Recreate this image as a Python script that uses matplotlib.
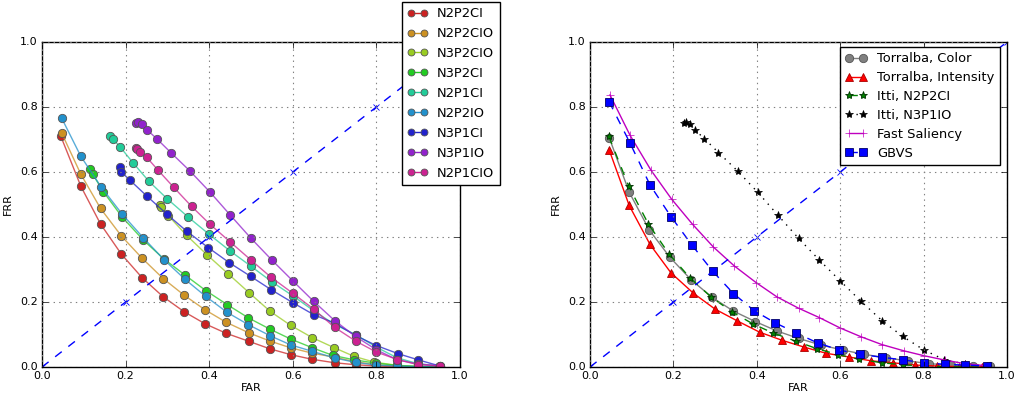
import matplotlib
matplotlib.use('Agg')
import matplotlib.pyplot as plt

plt.style.use('classic')
plt.rcParams['figure.facecolor'] = 'white'
plt.rcParams['savefig.facecolor'] = 'white'
plt.rcParams['font.size'] = 8

# ---- left panel data ----
names_left = ['N2P2CI', 'N2P2CIO', 'N3P2CIO', 'N3P2CI', 'N2P1CI',
              'N2P2IO', 'N3P1CI', 'N3P1IO', 'N2P1CIO']
colors_left = ['#cc2222', '#cc9122', '#99cc22', '#22cc22', '#22cc99',
               '#2291cc', '#2222cc', '#9122cc', '#cc2291']

far_n2p2ci = [0.045, 0.093, 0.14, 0.19, 0.24, 0.29, 0.34, 0.39, 0.44, 0.495,
              0.545, 0.595, 0.645, 0.70, 0.75, 0.80, 0.85, 0.90, 0.95]
frr_n2p2ci = [0.71, 0.556, 0.44, 0.347, 0.274, 0.216, 0.17, 0.133, 0.104, 0.079,
              0.056, 0.038, 0.024, 0.013, 0.007, 0.003, 0.001, 0.0, 0.0]

far_n2p2cio = [0.047, 0.093, 0.14, 0.19, 0.24, 0.29, 0.34, 0.39, 0.44, 0.495,
               0.545, 0.595, 0.645, 0.70, 0.75, 0.80, 0.85, 0.90, 0.95]
frr_n2p2cio = [0.72, 0.593, 0.488, 0.403, 0.334, 0.272, 0.221, 0.176, 0.138, 0.105,
               0.080, 0.059, 0.043, 0.030, 0.016, 0.007, 0.003, 0.001, 0.0]

far_n3p2cio = [0.282, 0.285, 0.302, 0.346, 0.395, 0.446, 0.496, 0.546, 0.595,
               0.647, 0.698, 0.746, 0.795, 0.85, 0.90, 0.95]
frr_n3p2cio = [0.5, 0.493, 0.466, 0.405, 0.345, 0.286, 0.228, 0.171, 0.128,
               0.090, 0.060, 0.033, 0.015, 0.005, 0.001, 0.0]

far_n3p2ci = [0.115, 0.121, 0.147, 0.192, 0.242, 0.292, 0.342, 0.392, 0.443, 0.494,
              0.546, 0.595, 0.647, 0.695, 0.747, 0.798, 0.85, 0.90, 0.95]
frr_n3p2ci = [0.609, 0.594, 0.539, 0.461, 0.391, 0.332, 0.283, 0.235, 0.192, 0.151,
              0.116, 0.086, 0.059, 0.036, 0.022, 0.012, 0.005, 0.002, 0.0]

far_n2p1ci = [0.162, 0.17, 0.187, 0.218, 0.256, 0.30, 0.35, 0.40, 0.45, 0.50,
              0.55, 0.60, 0.65, 0.70, 0.75, 0.80, 0.85, 0.90, 0.952]
frr_n2p1ci = [0.711, 0.701, 0.677, 0.628, 0.571, 0.517, 0.461, 0.408, 0.357, 0.31,
              0.262, 0.219, 0.173, 0.131, 0.100, 0.061, 0.028, 0.010, 0.003]

far_n2p2io = [0.047, 0.093, 0.142, 0.192, 0.242, 0.292, 0.342, 0.392, 0.443, 0.494,
              0.546, 0.595, 0.647, 0.70, 0.75, 0.80, 0.85, 0.90, 0.95]
frr_n2p2io = [0.766, 0.648, 0.553, 0.47, 0.398, 0.33, 0.27, 0.217, 0.168, 0.13,
              0.096, 0.068, 0.048, 0.028, 0.014, 0.006, 0.003, 0.001, 0.0]

far_n3p1ci = [0.186, 0.19, 0.211, 0.25, 0.298, 0.346, 0.398, 0.448, 0.499, 0.548,
              0.60, 0.65, 0.70, 0.75, 0.80, 0.852, 0.90, 0.952]
frr_n3p1ci = [0.614, 0.60, 0.574, 0.527, 0.471, 0.418, 0.367, 0.321, 0.279, 0.238,
              0.198, 0.161, 0.135, 0.097, 0.066, 0.041, 0.022, 0.003]

far_n3p1io = [0.226, 0.23, 0.24, 0.252, 0.274, 0.308, 0.354, 0.402, 0.45, 0.50,
              0.55, 0.60, 0.65, 0.70, 0.75, 0.80, 0.85, 0.90, 0.952]
frr_n3p1io = [0.752, 0.755, 0.747, 0.729, 0.703, 0.660, 0.603, 0.538, 0.468, 0.396,
              0.329, 0.265, 0.202, 0.143, 0.094, 0.053, 0.022, 0.009, 0.004]

far_n2p1cio = [0.224, 0.227, 0.234, 0.25, 0.278, 0.315, 0.358, 0.402, 0.45, 0.50,
               0.548, 0.60, 0.65, 0.70, 0.75, 0.80, 0.85, 0.90, 0.952]
frr_n2p1cio = [0.673, 0.67, 0.663, 0.646, 0.605, 0.553, 0.494, 0.439, 0.385, 0.329,
               0.276, 0.227, 0.178, 0.122, 0.080, 0.046, 0.023, 0.007, 0.003]

fars_left = [far_n2p2ci, far_n2p2cio, far_n3p2cio, far_n3p2ci, far_n2p1ci,
             far_n2p2io, far_n3p1ci, far_n3p1io, far_n2p1cio]
frrs_left = [frr_n2p2ci, frr_n2p2cio, frr_n3p2cio, frr_n3p2ci, frr_n2p1ci,
             frr_n2p2io, frr_n3p1ci, frr_n3p1io, frr_n2p1cio]

# ---- right panel data ----
far_torr_color = [0.046, 0.094, 0.142, 0.192, 0.242, 0.293, 0.344, 0.396, 0.448, 0.50,
                  0.553, 0.606, 0.658, 0.71, 0.762, 0.814, 0.866, 0.918, 0.96]
frr_torr_color = [0.706, 0.538, 0.422, 0.337, 0.269, 0.214, 0.172, 0.140, 0.111, 0.088,
                  0.068, 0.052, 0.039, 0.028, 0.019, 0.010, 0.006, 0.003, 0.003]

far_torr_int = [0.046, 0.094, 0.144, 0.194, 0.248, 0.30, 0.353, 0.407, 0.461, 0.514,
                0.567, 0.62, 0.674, 0.726, 0.78, 0.832, 0.885, 0.94]
frr_torr_int = [0.668, 0.497, 0.377, 0.290, 0.227, 0.178, 0.142, 0.107, 0.082, 0.061,
                0.042, 0.031, 0.019, 0.013, 0.006, 0.003, 0.001, 0.0]

far_fast = [0.048, 0.096, 0.146, 0.196, 0.246, 0.296, 0.346, 0.398, 0.448, 0.50,
            0.55, 0.60, 0.65, 0.70, 0.752, 0.80, 0.852, 0.90, 0.95]
frr_fast = [0.837, 0.713, 0.606, 0.516, 0.439, 0.369, 0.311, 0.260, 0.216, 0.181,
            0.152, 0.12, 0.093, 0.069, 0.050, 0.035, 0.021, 0.010, 0.004]

far_gbvs = [0.046, 0.096, 0.144, 0.194, 0.244, 0.294, 0.344, 0.394, 0.444, 0.494,
            0.546, 0.598, 0.648, 0.70, 0.75, 0.80, 0.852, 0.90, 0.952]
frr_gbvs = [0.816, 0.689, 0.560, 0.463, 0.376, 0.295, 0.226, 0.173, 0.136, 0.105,
            0.074, 0.052, 0.039, 0.030, 0.022, 0.013, 0.008, 0.006, 0.003]

diag = [0.0, 0.2, 0.4, 0.6, 0.8, 1.0]

fig = plt.figure(figsize=(10.14, 3.93), dpi=100)
ax1 = fig.add_axes([42 / 1014, 26 / 393, 418 / 1014, 325 / 393])
ax2 = fig.add_axes([590 / 1014, 26 / 393, 417 / 1014, 325 / 393])

# left: all Itti variants
for name, col, far, frr in zip(names_left, colors_left, fars_left, frrs_left):
    ax1.plot(far, frr, '-', color=col, lw=1, alpha=0.75)
    ax1.plot(far, frr, 'o', color=col, markeredgecolor='#555555', mew=0.6,
             markersize=6)
    # proxy for legend
    ax1.plot([], [], 'o-', color=col, markeredgecolor='#555555', mew=0.6,
             markersize=5, label=name)
ax1.plot(diag, diag, 'bx--', lw=1, markersize=5, mew=0.6)

ax1.legend(loc='upper left', bbox_to_anchor=(402 / 1014, 1 - 2 / 393),
           bbox_transform=fig.transFigure, borderaxespad=0,
           fontsize=9.4, numpoints=2, handlelength=1.6, labelspacing=0.53,
           handletextpad=0.7)

# right: comparison
ax2.plot(far_torr_color, frr_torr_color, 'o-', color='gray', markeredgecolor='#555555',
         mew=0.6, markersize=6, lw=1, label='Torralba, Color')
ax2.plot(far_torr_int, frr_torr_int, '^-', color='red', markeredgecolor='#aa0000',
         mew=0.6, markersize=6, lw=1, label='Torralba, Intensity')
ax2.plot(far_n2p2ci, frr_n2p2ci, '*--', color='green', markeredgecolor='#003300',
         mew=0.6, markersize=6, lw=1, label='Itti, N2P2CI')
ax2.plot(far_n3p1io, frr_n3p1io, '*', color='black', markersize=6,
         linestyle=(0, (1, 4)), lw=1, label='Itti, N3P1IO')
ax2.plot(far_fast, frr_fast, '+-', color='m', markersize=6, lw=1,
         label='Fast Saliency')
ax2.plot(far_gbvs, frr_gbvs, 's--', color='b', markeredgecolor='#000066', mew=0.6,
         markersize=6, lw=1, label='GBVS')
ax2.plot(diag, diag, 'bx--', lw=1, markersize=5, mew=0.6)

ax2.legend(loc='upper right', bbox_to_anchor=(1000 / 1014, 1 - 47 / 393),
           bbox_transform=fig.transFigure, borderaxespad=0,
           fontsize=9.4, numpoints=2, handlelength=1.7, labelspacing=0.45,
           handletextpad=0.8)

for ax in (ax1, ax2):
    ax.set_xlim(0, 1)
    ax.set_ylim(0, 1)
    ax.set_xticks([0.0, 0.2, 0.4, 0.6, 0.8, 1.0])
    ax.set_yticks([0.0, 0.2, 0.4, 0.6, 0.8, 1.0])
    ax.tick_params(labelsize=8, pad=3)
    ax.grid(True, color='gray', linestyle=':', lw=0.8)
    ax.set_xlabel('FAR', fontsize=8, labelpad=1)
    ax.set_ylabel('FRR', fontsize=8, labelpad=5)

plt.savefig('out.png', dpi=100)
